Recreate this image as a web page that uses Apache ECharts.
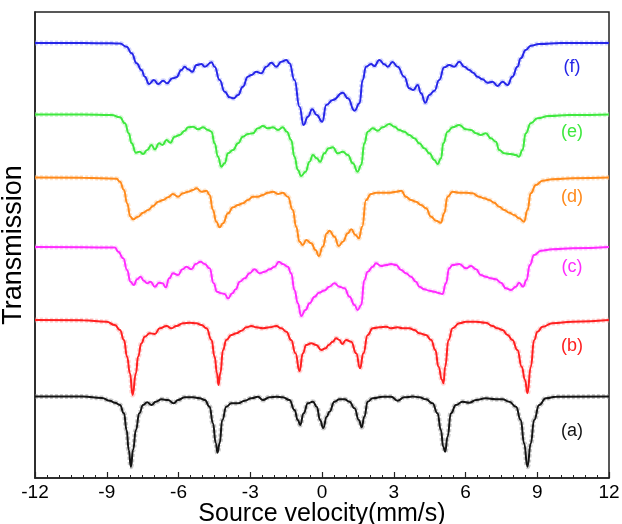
<!DOCTYPE html>
<html><head><meta charset="utf-8">
<script src="https://cdn.jsdelivr.net/npm/echarts/dist/echarts.min.js"></script>
<style>html,body{margin:0;padding:0;background:#fff}#c{width:622px;height:524px}</style>
</head><body><div id="c"></div><script>
// Mössbauer spectra: [velocity mm/s, absorption depth (arb. units below baseline)]
const specF = [[-12,0],[-10,0],[-8.8,0.3],[-8.45,0.5],[-8.17,3.7],[-7.96,10.3],[-7.75,20.3],[-7.55,27],[-7.41,33.7],[-7.23,41],[-7.03,37],[-6.85,41],[-6.64,37.7],[-6.48,40.3],[-6.25,35.3],[-6.09,34.3],[-5.88,27],[-5.74,23.7],[-5.6,26.3],[-5.42,28.7],[-5.25,22],[-5.04,21],[-4.9,23.7],[-4.62,19.3],[-4.49,23.7],[-4.28,37],[-4.07,48.7],[-3.86,54.3],[-3.69,55.3],[-3.51,52],[-3.31,43.7],[-3.1,33.7],[-2.95,32],[-2.75,28.7],[-2.54,30.3],[-2.33,23.7],[-2.12,19.7],[-1.91,23.7],[-1.7,18.7],[-1.49,17],[-1.36,20.3],[-1.15,37],[-0.94,63.7],[-0.77,82],[-0.59,73.7],[-0.41,66.3],[-0.22,72],[0.01,78.7],[0.18,62],[0.45,57],[0.87,49.7],[1.08,55.3],[1.36,67.7],[1.57,60.3],[1.7,37],[1.84,23.7],[2.05,21],[2.19,23],[2.4,17],[2.61,21.3],[2.75,23.7],[2.95,19],[3.16,23.7],[3.44,33.7],[3.65,45.3],[3.82,47],[4.0,42],[4.14,50.3],[4.32,59.7],[4.49,52],[4.7,47.7],[4.9,37],[5.11,24.3],[5.32,22],[5.53,23.7],[5.74,18.7],[5.95,23.7],[6.16,27],[6.32,29.7],[6.5,33.7],[6.71,36.3],[6.92,39.7],[7.13,38.7],[7.34,43],[7.55,38.7],[7.76,42],[7.96,33.7],[8.17,23.7],[8.31,15.3],[8.52,7],[8.73,2.7],[9.08,1],[10,0],[12,0]];
const specE = [[-12,0],[-10,0],[-8.8,0.5],[-8.45,2.8],[-8.24,8.8],[-8.08,18.8],[-7.96,28.8],[-7.78,38.2],[-7.62,37.2],[-7.48,39.5],[-7.31,35.5],[-7.13,30.5],[-6.99,34.8],[-6.81,28.8],[-6.67,30.5],[-6.5,25.5],[-6.34,28.2],[-6.16,22.2],[-5.95,20.5],[-5.74,16.2],[-5.6,12.8],[-5.39,12.2],[-5.18,14.8],[-4.97,12.8],[-4.77,15.5],[-4.62,17.2],[-4.49,28.8],[-4.35,42.2],[-4.21,52.2],[-4.07,48.8],[-3.93,38.8],[-3.72,35.5],[-3.51,28.8],[-3.31,22.2],[-3.1,19.5],[-2.89,18.8],[-2.68,13.8],[-2.47,11.5],[-2.26,13.8],[-2.05,12.8],[-1.84,15.5],[-1.64,12.8],[-1.47,17.2],[-1.29,25.5],[-1.15,42.2],[-1.01,55.5],[-0.87,61.5],[-0.69,57.2],[-0.52,47.2],[-0.38,40.5],[-0.22,43.8],[-0.08,47.2],[0.1,38.8],[0.28,33.8],[0.45,32.8],[0.66,38.8],[0.87,37.2],[1.08,40.5],[1.29,48.8],[1.49,57.2],[1.64,50.5],[1.77,28.8],[1.91,17.2],[2.12,13.8],[2.33,16.2],[2.54,12.8],[2.82,9.5],[3.03,12.2],[3.23,15.5],[3.44,17.2],[3.65,20.5],[3.86,23.8],[4.07,28.8],[4.28,33.8],[4.49,38.8],[4.7,45.5],[4.83,49.5],[4.98,43.8],[5.07,28.8],[5.25,17.2],[5.46,12.8],[5.74,10.5],[6.02,14.8],[6.23,15.5],[6.44,18.8],[6.64,20.5],[6.85,18.8],[7.06,23.8],[7.27,27.2],[7.41,35.5],[7.62,38.8],[7.9,39.5],[8.11,40.5],[8.24,42.2],[8.38,35.5],[8.52,18.8],[8.73,8.8],[9.01,3.8],[9.49,1.5],[10.33,0.5],[12,0]];
const specD = [[-12,0],[-10,0.3],[-8.59,1.2],[-8.45,4.2],[-8.28,12.5],[-8.15,25.8],[-8.01,39.2],[-7.9,41.8],[-7.69,39.2],[-7.48,35.2],[-7.27,32.5],[-7.06,28.5],[-6.85,24.2],[-6.64,22.5],[-6.44,19.8],[-6.23,16.5],[-6.02,19.2],[-5.81,15.8],[-5.6,14.2],[-5.39,12.5],[-5.25,10.8],[-5.04,14.2],[-4.83,13.2],[-4.7,17.5],[-4.56,32.5],[-4.42,44.2],[-4.28,49.8],[-4.14,45.8],[-3.93,35.8],[-3.72,29.8],[-3.51,27.5],[-3.31,25.8],[-3.1,22.5],[-2.89,19.2],[-2.68,19.2],[-2.47,17.5],[-2.26,15.2],[-2.05,14.2],[-1.84,16.5],[-1.64,15.2],[-1.43,19.2],[-1.22,32.5],[-1.08,49.2],[-0.94,64.2],[-0.8,67.5],[-0.66,62.5],[-0.45,65.8],[-0.27,72.5],[-0.13,78.5],[0.03,69.2],[0.2,55.8],[0.31,53.2],[0.52,59.2],[0.7,68.5],[0.87,64.2],[1.08,55.8],[1.22,51.8],[1.4,57.5],[1.54,60.8],[1.68,49.2],[1.84,22.5],[2.05,16.5],[2.26,15.2],[2.54,15.2],[2.82,15.2],[3.1,14.2],[3.31,13.2],[3.51,19.2],[3.72,22.5],[3.93,24.2],[4.14,27.5],[4.35,30.8],[4.56,39.2],[4.77,43.2],[4.97,45.2],[5.11,35.8],[5.25,19.2],[5.46,14.2],[5.74,15.2],[6.02,15.2],[6.29,15.8],[6.57,19.2],[6.78,20.8],[6.99,22.5],[7.2,25.2],[7.41,29.2],[7.62,32.5],[7.83,35.2],[8.03,37.5],[8.24,40.8],[8.45,44.2],[8.59,32.5],[8.73,15.8],[8.94,7.5],[9.22,3.2],[9.63,1.8],[10.47,0.8],[12,0]];
const specC = [[-12,0],[-10,0.3],[-8.66,0.5],[-8.52,4.7],[-8.31,11.3],[-8.15,23],[-8.01,34.7],[-7.87,38],[-7.73,32.3],[-7.59,29.7],[-7.45,33.7],[-7.31,36.3],[-7.17,34.7],[-6.99,39.7],[-6.81,35.7],[-6.67,36.3],[-6.53,40.3],[-6.39,31.3],[-6.23,26.3],[-6.02,28],[-5.83,22.3],[-5.67,19.7],[-5.46,22.3],[-5.28,17],[-5.08,14.7],[-4.9,17],[-4.7,21.3],[-4.53,36.3],[-4.39,44.7],[-4.21,46.3],[-4.07,47],[-3.93,51.3],[-3.75,46.3],[-3.61,42.3],[-3.44,34.7],[-3.23,31.3],[-3.03,26.3],[-2.82,22.3],[-2.61,26.3],[-2.4,24.7],[-2.19,22.3],[-1.98,19.7],[-1.8,14.7],[-1.64,17],[-1.43,19.7],[-1.29,26.3],[-1.15,43],[-1.01,56.3],[-0.87,69],[-0.69,63],[-0.52,56.3],[-0.31,49.7],[-0.13,45.7],[0.1,43.5],[0.31,39.7],[0.52,36.3],[0.73,39.7],[0.94,41.3],[1.15,49.7],[1.36,58],[1.49,63],[1.64,58],[1.77,33],[1.91,24.7],[2.12,19.7],[2.26,16.3],[2.47,19],[2.68,18],[2.89,17],[3.1,18],[3.31,23],[3.51,26.3],[3.72,29.7],[3.93,34.7],[4.07,39.7],[4.28,42.3],[4.49,43.7],[4.7,44.7],[4.83,45.7],[5.04,47],[5.18,36.3],[5.32,21.3],[5.46,18],[5.74,17],[6.02,21.3],[6.23,19],[6.44,22.3],[6.64,28],[6.85,29.7],[7.06,31.3],[7.27,32.3],[7.48,35.7],[7.69,41.3],[7.9,43],[8.11,39.7],[8.24,35.7],[8.41,39.7],[8.55,33],[8.69,18],[8.87,8],[9.15,3.7],[9.63,2.3],[10.47,1.3],[12,0]];
const specB = [[-12,0],[-10,0.3],[-9.01,1.7],[-8.66,5],[-8.45,10],[-8.28,20],[-8.15,36.7],[-8.03,53.3],[-7.92,75],[-7.78,53.3],[-7.69,36.7],[-7.55,23.3],[-7.41,16.7],[-7.2,13.3],[-6.99,14],[-6.78,8.3],[-6.5,6],[-6.29,8.3],[-6.09,6],[-5.81,3.3],[-5.53,2.7],[-5.25,3.3],[-5.04,5],[-4.83,8.3],[-4.62,20],[-4.49,36.7],[-4.39,53.3],[-4.33,65],[-4.25,53.3],[-4.14,30],[-4,20],[-3.79,15],[-3.58,13.3],[-3.37,10.7],[-3.16,7.3],[-2.95,6],[-2.75,7.3],[-2.47,8.3],[-2.19,7.3],[-1.91,6],[-1.7,8.3],[-1.49,11.7],[-1.29,20],[-1.11,33.3],[-0.94,51],[-0.8,33.3],[-0.66,25],[-0.45,23.3],[-0.24,25],[-0.03,30],[0.15,28.3],[0.28,25],[0.45,21.7],[0.59,18.3],[0.73,20],[0.84,24],[1.01,20],[1.22,21.7],[1.43,33.3],[1.59,48.3],[1.73,33.3],[1.91,15],[2.12,8.3],[2.4,7.3],[2.68,6.7],[2.89,8.3],[3.16,7.3],[3.37,8.3],[3.65,8.3],[3.86,10],[4.07,13.3],[4.35,15],[4.56,20],[4.74,30],[4.87,46.7],[5.02,60],[5.08,63.3],[5.15,46.7],[5.29,20],[5.46,8.3],[5.74,3.3],[6.02,1.7],[6.44,1.7],[6.85,2.7],[7.13,6],[7.34,8.3],[7.55,10],[7.76,15],[7.96,20],[8.17,30],[8.35,46.7],[8.49,60],[8.59,73.3],[8.73,46.7],[8.87,20],[9.01,11.7],[9.22,6.7],[9.63,3.3],[10.47,1.7],[12,0]];
const specA = [[-12,0],[-10,0],[-9.2,1.5],[-8.87,4.2],[-8.66,6.2],[-8.45,8.5],[-8.28,16.8],[-8.17,33.5],[-8.08,53.5],[-7.99,70.2],[-7.9,53.5],[-7.78,33.5],[-7.64,16.8],[-7.48,8.5],[-7.31,5.8],[-7.13,8.5],[-6.95,5.2],[-6.71,2.8],[-6.44,3.5],[-6.2,6.8],[-6.02,3.5],[-5.74,0.8],[-5.39,0.8],[-5.11,1.8],[-4.9,3.5],[-4.7,10.2],[-4.56,26.8],[-4.44,46.8],[-4.37,56.2],[-4.28,46.8],[-4.17,23.5],[-4,10.2],[-3.79,6.8],[-3.51,6.8],[-3.23,4.2],[-2.95,1.8],[-2.68,0.2],[-2.47,3.5],[-2.19,0.8],[-1.91,0.2],[-1.64,0.8],[-1.36,3.5],[-1.15,13.5],[-1.01,23.5],[-0.91,28.5],[-0.77,16.8],[-0.59,6.8],[-0.38,5.2],[-0.22,10.2],[-0.08,23.5],[0.05,31.5],[0.2,20.2],[0.31,15.2],[0.52,5.2],[0.73,2.8],[0.94,2.8],[1.15,5.2],[1.36,11.8],[1.54,23.5],[1.66,30.8],[1.77,20.2],[1.91,5.2],[2.12,1.8],[2.54,0.2],[2.89,0.2],[3.16,4.2],[3.44,0.8],[3.79,0],[4.07,0.8],[4.35,2.8],[4.62,6.8],[4.83,16.8],[4.97,33.5],[5.07,50.2],[5.15,55.2],[5.25,40.2],[5.39,16.8],[5.6,8.5],[5.88,5.2],[6.16,6.2],[6.44,3.5],[6.85,1.8],[7.27,2.8],[7.55,2.8],[7.83,5.2],[8.11,10.2],[8.31,23.5],[8.45,46.8],[8.59,70.2],[8.73,46.8],[8.87,23.5],[9.08,8.5],[9.36,1.8],[9.78,0.2],[12,0]];

const sampleNames = ['(f)','(e)','(d)','(c)','(b)','(a)'];
const baselines = [435, 363.5, 300.5, 231, 158, 81.5];   // vertical offset of each spectrum
const xTicks = [-12,-9,-6,-3,0,3,6,9,12];

const spectra = [specF, specE, specD, specC, specB, specA];
const colors = ['#2626e8','#3fe83f','#ff8a1c','#ff2cff','#ff2020','#141414'];
const lightColors = ['#9ea4ff','#a8f5a8','#ffc58c','#ffa6ff','#ffa0a0','#8c8c8c'];
const labelPos = [[572,67],[572,132],[572,197],[572,267],[572,346],[572,431]];

const series = [];
spectra.forEach((sp, i) => {
  const data = sp.map(p => [p[0], baselines[i] - p[1]]);
  series.push({type:'line', data, showSymbol:false, smooth:0.5, smoothMonotone:'x', silent:true,
    lineStyle:{color:lightColors[i], width:5, opacity:0.45, type:[3,2]}, z:1});
  series.push({type:'line', data, showSymbol:false, smooth:0.5, smoothMonotone:'x', silent:true,
    lineStyle:{color:colors[i], width:2}, z:2});
});

const chart = echarts.init(document.getElementById('c'));
chart.setOption({
  animation:false,
  backgroundColor:'#fff',
  grid:{left:35, right:13, top:12, bottom:46, show:true, borderColor:'#222', borderWidth:1.5,
    containLabel:false, outerBoundsMode:'none'},
  xAxis:{type:'value', min:xTicks[0], max:xTicks[xTicks.length-1], interval:3,
    axisLine:{show:true, onZero:false, lineStyle:{color:'#222', width:1.5}},
    axisTick:{show:true, inside:true, length:6, lineStyle:{color:'#222', width:1.2}},
    minorTick:{show:true, splitNumber:6, length:3, lineStyle:{color:'#222', width:1}},
    axisLabel:{color:'#000', fontSize:19, fontFamily:'Liberation Sans, Arial', margin:5, showMinLabel:true, showMaxLabel:true},
    splitLine:{show:false},
    name:'Source velocity(mm/s)', nameLocation:'middle', nameGap:24, nameMoveOverlap:false,
    nameTextStyle:{color:'#000', fontSize:25, fontFamily:'Liberation Sans, Arial', verticalAlign:'top', lineHeight:25}},
  yAxis:{type:'value', min:0, max:466,
    axisLine:{show:true, onZero:false, lineStyle:{color:'#222', width:1.5}},
    axisTick:{show:false}, axisLabel:{show:false}, splitLine:{show:false},
    name:'Transmission', nameLocation:'middle', nameGap:8, nameMoveOverlap:false,
    nameTextStyle:{color:'#000', fontSize:27, fontFamily:'Liberation Sans, Arial'}},
  graphic: sampleNames.map((t, i) => ({type:'text', x:labelPos[i][0], y:labelPos[i][1],
    style:{text:t, fill:colors[i], font:'18px "Liberation Sans", Arial', textAlign:'center', textVerticalAlign:'middle'}})),
  series
});
</script></body></html>
